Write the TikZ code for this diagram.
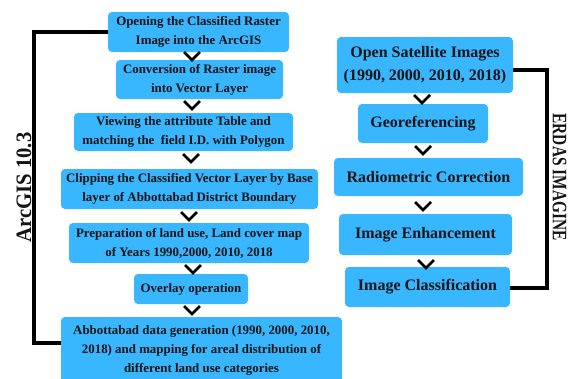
\documentclass[tikz,border=0pt]{standalone}
\usepackage{fontspec}
\setmainfont{Liberation Serif}
\usetikzlibrary{calc}
\definecolor{boxblue}{HTML}{38B6FF}
\definecolor{ink}{HTML}{141414}
\begin{document}
\begin{tikzpicture}[x=1pt,y=-1pt,
  box/.style={fill=boxblue, rounded corners=4pt, align=center, inner sep=0pt, text=ink},
  lbox/.style={box, font=\fontsize{12.9}{19}\selectfont\bfseries},
  rbox/.style={box, font=\fontsize{16}{23}\selectfont\bfseries},
  chevst/.style={draw=black, line width=2.6pt, miter limit=10},
  bracket/.style={draw=black, line width=3.6pt}]
\useasboundingbox (0,0) rectangle (568,378);
% left column
\node[lbox, minimum width=181pt, minimum height=40pt] (b1) at (198.5,32) {Opening the Classified Raster\\Image into the ArcGIS};
\node[lbox, minimum width=167pt, minimum height=39pt] (b2) at (199.5,79.5) {Conversion of Raster image\\into Vector Layer};
\node[lbox, minimum width=219pt, minimum height=38pt] (b3) at (183.5,132) {Viewing the attribute Table and\\matching the\ \ field I.D. with Polygon};
\node[lbox, minimum width=257pt, minimum height=40pt] (b4) at (189.5,189) {Clipping the Classified Vector Layer by Base\\layer of Abbottabad District Boundary};
\node[lbox, minimum width=240pt, minimum height=40pt] (b5) at (189,243) {Preparation of land use, Land cover map\\of Years 1990,2000, 2010, 2018};
\node[lbox, minimum width=114pt, minimum height=30pt] (b6) at (191,289) {Overlay operation};
\node[lbox, minimum width=281pt, minimum height=67pt] (b7) at (201.5,350.5) {Abbottabad data generation (1990, 2000, 2010,\\2018) and mapping for areal distribution of\\different land use categories};
% right column
\node[rbox, minimum width=176pt, minimum height=56pt] (r1) at (425,65) {Open Satellite Images\\(1990, 2000, 2010, 2018)};
\node[rbox, minimum width=130pt, minimum height=39pt] (r2) at (423,123.5) {Georeferencing};
\node[rbox, minimum width=189pt, minimum height=38pt] (r3) at (428.5,177) {Radiometric Correction};
\node[rbox, minimum width=173pt, minimum height=41pt] (r4) at (425.5,234.5) {Image Enhancement};
\node[rbox, minimum width=165pt, minimum height=40pt] (r5) at (427.5,287) {Image Classification};
% chevrons
\foreach \cx/\cy in {192/56, 192/105, 191/158, 189/216, 193/269, 192/310, 422/99, 423/150, 423/206, 426/264}{
  \draw[chevst] (\cx,\cy) ++(-8,-4) -- ++(8,8) -- ++(8,-8);
}
% brackets
\coordinate (lt) at (34,32);
\coordinate (lb) at (34,343);
\draw[bracket] (b1.west) -- (lt) -- (lb) -- (b7.west |- lb);
\coordinate (rt) at (547,70);
\coordinate (rb) at (547,288);
\draw[bracket] (r1.east |- rt) -- (rt) -- (rb) -- (r5.east |- rb);
% side labels
\node[rotate=90, inner sep=0pt, text=ink, font=\fontsize{22}{22}\selectfont\bfseries] (arc) at (24,187.5) {\scalebox{0.94}[1]{ArcGIS 10.3}};
\node[rotate=-90, inner sep=0pt, text=ink, font=\fontsize{20.5}{20.5}\selectfont\bfseries] (erd) at (559.5,177) {\scalebox{0.75}[1]{ERDAS IMAGINE}};
\end{tikzpicture}
\end{document}
